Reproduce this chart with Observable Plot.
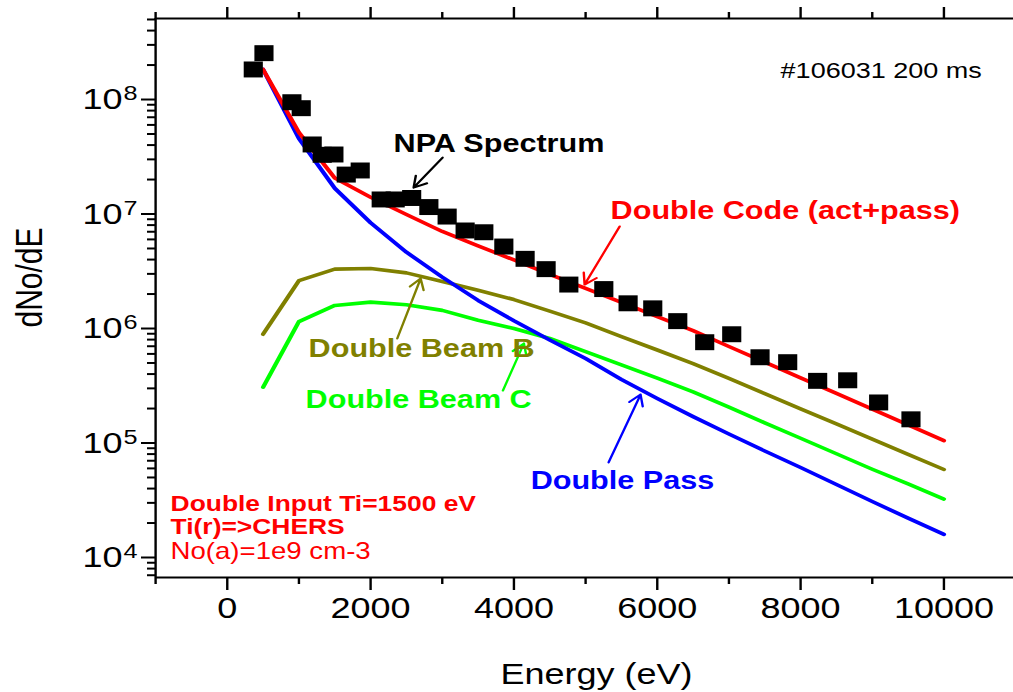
<!DOCTYPE html>
<html><head><meta charset="utf-8">
<script src="https://cdn.jsdelivr.net/npm/d3@7"></script>
<script src="https://cdn.jsdelivr.net/npm/@observablehq/plot@0.6"></script>
<style>
html,body{margin:0;padding:0;background:#fff;}
#chart{width:1013px;height:692px;overflow:hidden;}
</style></head><body><div id="chart"></div>
<script>
// ---- data ----
const energy = [500,1000,1500,2000,2500,3000,3500,4000,4500,5000,5500,6000,6500,7000,7500,8000,8500,9000,9500,10000];
const doubleCode  = [1.83e8,5.15e7,2.06e7,1.40e7,9.9e6,7.04e6,5.28e6,3.97e6,2.97e6,2.24e6,1.69e6,1.27e6,9.57e5,6.96e5,5.09e5,3.71e5,2.71e5,1.98e5,1.44e5,1.05e5];
const doublePass  = [1.83e8,4.56e7,1.68e7,8.38e6,4.64e6,2.81e6,1.76e6,1.17e6,7.94e5,5.47e5,3.59e5,2.45e5,1.70e5,1.20e5,8.51e4,6.11e4,4.34e4,3.08e4,2.21e4,1.59e4];
const doubleBeamB = [8.91e5,2.62e6,3.30e6,3.34e6,3.06e6,2.57e6,2.16e6,1.79e6,1.42e6,1.12e6,8.51e5,6.49e5,4.94e5,3.66e5,2.70e5,1.99e5,1.47e5,1.08e5,7.97e4,5.87e4];
const doubleBeamC = [3.07e5,1.15e6,1.59e6,1.70e6,1.61e6,1.44e6,1.18e6,1.00e6,8.18e5,6.27e5,4.81e5,3.68e5,2.80e5,2.06e5,1.50e5,1.10e5,8.06e4,5.90e4,4.39e4,3.24e4];

const npaEnergy = [363,512,902,1032,1185,1325,1488,1660,1855,2148,2343,2573,2813,3068,3319,3580,3859,4156,4449,4766,5254,5593,5937,6286,6662,7039,7434,7820,8238,8657,9089,9540];
const npaValue  = [1.83e8,2.54e8,9.47e7,8.4e7,4.05e7,3.29e7,3.31e7,2.21e7,2.40e7,1.34e7,1.34e7,1.38e7,1.15e7,9.5e6,7.18e6,6.93e6,5.2e6,4.06e6,3.30e6,2.42e6,2.21e6,1.66e6,1.50e6,1.16e6,7.59e5,8.91e5,5.61e5,5.08e5,3.49e5,3.53e5,2.26e5,1.61e5];

const xMajorTicks = [0,2000,4000,6000,8000,10000];
const xMinorTicks = [-1000,1000,3000,5000,7000,9000];
const yMajorTicks = [1e4,1e5,1e6,1e7,1e8];
const yTickBase = ["10","10","10","10","10"];
const yTickExp  = ["4","5","6","7","8"];
const xDomain = [-1000, 11000];
const yDomain = [6688, 5.1e8];
const xLabel = "Energy (eV)";
const yLabel = "dNo/dE";

const annoText = ["NPA Spectrum","#106031 200 ms","Double Code (act+pass)","Double Beam B","Double Beam C","Double Pass","Double Input Ti=1500 eV","Ti(r)=>CHERS","No(a)=1e9 cm-3"];
const annoX = [2321,7721,5349,1135,1093,4233,-791,-791,-791];
const annoY = [4.13e7,1.79e8,1.07e7,6.69e5,2.40e5,4.70e4,2.96e4,1.83e4,1.13e4];

const arrowFromX = [3005,5475,2372,3846,5321];
const arrowFromY = [3.11e7,7.78e6,8.18e5,2.87e5,6.76e4];
const arrowToX   = [2600,4986,2698,4139,5767];
const arrowToY   = [1.70e7,2.42e6,2.73e6,7.40e5,2.65e5];

// ---- styles ----
const RED = "#ff0000", BLUE = "#0000ff", OLIVE = "#808000", GREEN = "#00ff00";
const annoColor = ["black","black",RED,OLIVE,GREEN,BLUE,RED,RED,RED];
const annoWeight = ["bold","normal","bold","bold","bold","bold","bold","bold","normal"];
const annoSize = [25.5,22.5,25.5,25.5,25.5,25.5,22,22,23];
const arrowColor = ["black",RED,OLIVE,GREEN,BLUE];

const W = 844, H = 692, S = 1013 / W;

const yMinorTicks = [];
for (let k = 3; k <= 8; k++) for (let m = 2; m <= 9; m++) {
  const v = m * Math.pow(10, k);
  if (v >= yDomain[0] && v <= yDomain[1]) yMinorTicks.push(v);
}

const series = (vals) => energy.map((e, i) => ({energy: e, value: vals[i]}));
const npa = npaEnergy.map((e, i) => ({energy: e, value: npaValue[i]}));
const annos = annoText.map((t, i) => ({text: t, x: annoX[i], y: annoY[i], color: annoColor[i], weight: annoWeight[i], size: annoSize[i]}));
const arrows = arrowFromX.map((x, i) => ({x1: x, y1: arrowFromY[i], x2: arrowToX[i], y2: arrowToY[i], color: arrowColor[i]}));
const yTicks = yMajorTicks.map((v, i) => ({v, base: yTickBase[i], exp: yTickExp[i]}));

const marks = [
  Plot.ruleY([yDomain[1]], {stroke: "black", strokeWidth: 2}),
  Plot.ruleY([yDomain[0]], {stroke: "black", strokeWidth: 2}),
  Plot.ruleX([xDomain[0]], {stroke: "black", strokeWidth: 2}),
  Plot.axisX(xMajorTicks, {anchor: "bottom", tickSize: 13, tickPadding: 6, strokeWidth: 2, fontSize: 30, tickFormat: d => String(d), label: null}),
  Plot.axisX(xMinorTicks, {anchor: "bottom", tickSize: 7, strokeWidth: 2, fill: "none", label: null}),
  Plot.axisX(xMajorTicks, {anchor: "top", tickSize: 12, strokeWidth: 2, fill: "none", label: null}),
  Plot.axisX(xMinorTicks, {anchor: "top", tickSize: 7, strokeWidth: 2, fill: "none", label: null}),
  Plot.axisY(yMajorTicks, {anchor: "left", tickSize: 14 / S, strokeWidth: 2, fill: "none", label: null}),
  Plot.axisY(yMinorTicks, {anchor: "left", tickSize: 8 / S, strokeWidth: 2, fill: "none", label: null}),
  Plot.text(yTicks, {y: "v", text: "base", frameAnchor: "left", dx: -27.5, textAnchor: "end", lineAnchor: "middle", fontSize: 30, fill: "black"}),
  Plot.text(yTicks, {y: "v", text: "exp", frameAnchor: "left", dx: -26.8, dy: -6, textAnchor: "start", lineAnchor: "middle", fontSize: 21, fill: "black"}),
  Plot.text([yLabel], {frameAnchor: "left", dx: -104.5, dy: -20.5, rotate: -90, fontSize: 30, textAnchor: "middle", lineAnchor: "middle", fill: "black"}),
  Plot.text([xLabel], {frameAnchor: "bottom", dx: 10, dy: 96.7, fontSize: 30, textAnchor: "middle", lineAnchor: "middle", fill: "black"}),
  Plot.line(series(doubleBeamB), {x: "energy", y: "value", stroke: OLIVE, strokeWidth: 3.6}),
  Plot.line(series(doubleBeamC), {x: "energy", y: "value", stroke: GREEN, strokeWidth: 3.6}),
  Plot.line(series(doublePass), {x: "energy", y: "value", stroke: BLUE, strokeWidth: 3.6}),
  Plot.line(series(doubleCode), {x: "energy", y: "value", stroke: RED, strokeWidth: 3.6}),
  Plot.dot(npa, {x: "energy", y: "value", symbol: "square", r: 9, fill: "black"}),
  Plot.arrow(arrows, {x1: "x1", y1: "y1", x2: "x2", y2: "y2", stroke: d => d.color, strokeWidth: 2, headLength: 9})
];
for (const a of annos) {
  marks.push(Plot.text([a], {x: "x", y: "y", text: "text", fill: a.color, fontWeight: a.weight, fontSize: a.size, textAnchor: "start", lineAnchor: "middle"}));
}

const svg = Plot.plot({
  width: W, height: H,
  marginLeft: 155 / S, marginRight: 0, marginTop: 18, marginBottom: 115,
  style: {fontFamily: "'Liberation Sans', Arial, sans-serif", fontSize: "30px", background: "white", color: "black"},
  x: {domain: xDomain, range: [155 / S, 1015 / S]},
  y: {type: "log", domain: yDomain, range: [577, 18]},
  marks
});
svg.setAttribute("preserveAspectRatio", "none");
svg.setAttribute("width", 1013);
svg.setAttribute("height", 692);
svg.style.width = "1013px";
svg.style.height = "692px";
svg.style.maxWidth = "none";
document.getElementById("chart").append(svg);
</script></body></html>
